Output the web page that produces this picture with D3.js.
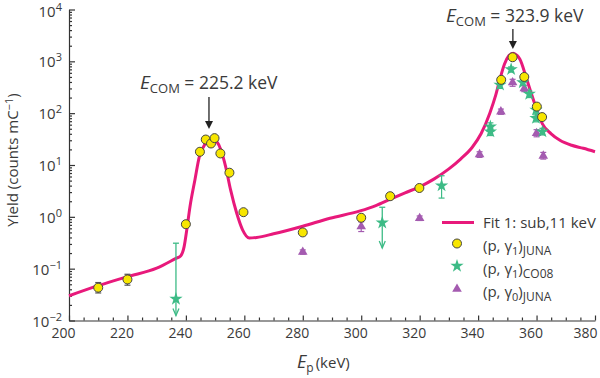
<!DOCTYPE html>
<html><head><meta charset="utf-8">
<script src="https://cdn.jsdelivr.net/npm/d3@7"></script>
<style>
body{margin:0;background:#fff;}
svg{display:block;}
text{font-family:"Open Sans","Noto Sans",sans-serif;fill:#3a3a3a;}
</style></head>
<body>
<svg id="c" width="600" height="378"></svg>
<script>
// ---------- data ----------
const xTicks = [200,220,240,260,280,300,320,340,360,380];
const yTickExp = [-2,-1,0,1,2,3,4];

const fitE = [200,210,220,230,236.6,238.2,239.4,240.3,241.4,243.1,244.6,246.5,248.3,249.5,250.6,252,253.6,255.3,257.4,259.4,261.7,264.2,270,280,289.3,299.6,305,310,315,320,325,330,334,338,341,344,346,347.5,349,350.5,352,353.3,354.3,356.6,358,360,362,365,368,372,376,380];
const fitY = [0.030,0.047,0.070,0.102,0.158,0.176,0.266,0.56,1.57,5.2,14.5,25,30,30.5,28,19.5,9.3,3.3,1.17,0.56,0.39,0.40,0.47,0.66,0.94,1.30,1.65,2.2,2.9,3.8,5.4,8.4,13,22,40,100,220,460,880,1280,1440,1300,1100,460,260,120,62,40,30,24,21,18];

const juna1E = [210,220,240,244.8,246.8,248.6,249.8,251.8,254.9,259.7,280,300,309.9,319.9,347.9,351.8,355.8,360.1,361.9];
const juna1Y = [0.043,0.062,0.72,18,31,26,33,16.7,7.1,1.23,0.50,0.96,2.5,3.6,440,1200,500,134,84];
const juna1Lo = [0.034,0.048,null,null,null,null,null,null,null,null,null,null,null,null,null,null,null,null,null];
const juna1Hi = [0.054,0.078,null,null,null,null,null,null,null,null,null,null,null,null,null,null,null,null,null];

const co08E = [236.6,307.2,327.5,344.2,344.2,347.5,351.3,355.3,357.5,359.8,359.8,362];
const co08Y = [0.026,0.77,4.0,55,44,352,700,390,234,116,80,44];
const co08Lo = [0.0125,0.25,2.3,46,37,300,620,340,200,100,68,38];
const co08Hi = [0.31,1.53,6.2,65,52,410,780,450,270,135,93,51];
const co08Limit = [true,true,false,false,false,false,false,false,false,false,false,false];

const junaG0E = [280,300,320,340.5,347.8,351.8,355.8,360,362.3];
const junaG0Y = [0.21,0.65,0.94,16,107,390,300,41,15];
const junaG0Lo = [0.19,0.52,0.85,14,95,330,260,35,13];
const junaG0Hi = [0.23,0.80,1.04,18,120,450,345,48,17.5];

const legendLabels = ["Fit 1: sub,11 keV","(p, γ1)JUNA","(p, γ1)CO08","(p, γ0)JUNA"];

// ---------- chart ----------
const svg = d3.select("#c");
const x = d3.scaleLinear().domain([200,380]).range([69,595]);
const y = d3.scaleLog().domain([0.01,1e4]).range([320.5,9.5]);

const cPink = "#e8197b", cGreen = "#3dbb86", cPurple = "#a45bb0", cYellow = "#f7e600";

// axes
const xMinor = d3.range(200,381,5).filter(v => v % 20 !== 0);
const gx = svg.append("g").attr("transform","translate(0,320.5)");
gx.call(d3.axisBottom(x).tickValues(xTicks).tickSize(-5).tickSizeOuter(0).tickPadding(8).tickFormat(d3.format("d")));
gx.append("g").call(d3.axisBottom(x).tickValues(xMinor).tickSize(-3).tickSizeOuter(0).tickFormat(""))
  .select(".domain").remove();
gx.selectAll("text").attr("font-size",14).attr("dx",d => d===380 ? -10 : -6).style("fill","#3a3a3a")
  .attr("font-family","Open Sans, sans-serif");
gx.selectAll("path,line").attr("stroke","#333").attr("stroke-width",1.2);

const yMinor = [];
for (let e=-2;e<4;e++) for (let m=2;m<10;m++) yMinor.push(m*Math.pow(10,e));
const gy = svg.append("g").attr("transform","translate(69,0)");
gy.call(d3.axisLeft(y).tickValues(yTickExp.map(e=>Math.pow(10,e))).tickSize(-6).tickSizeOuter(0).tickFormat(""));
gy.append("g").call(d3.axisLeft(y).tickValues(yMinor).tickSize(-3).tickSizeOuter(0).tickFormat(""))
  .select(".domain").remove();
gy.selectAll("path,line").attr("stroke","#333").attr("stroke-width",1.2);

// y tick labels with superscripts
yTickExp.forEach(e => {
  const t = svg.append("text").attr("x",62).attr("y",y(Math.pow(10,e))+ (e===4 ? 7.5 : 6))
    .attr("text-anchor","end").attr("font-size",15);
  t.append("tspan").text("10");
  t.append("tspan").attr("dy",-6).attr("font-size",11).text(e<0 ? "−"+(-e) : String(e));
});

// axis titles
const yt = svg.append("text").attr("transform","translate(18,160) rotate(-90)")
  .attr("text-anchor","middle").attr("font-size",15);
yt.append("tspan").text("Yield (counts mC");
yt.append("tspan").attr("dy",-5).attr("font-size",11).text("−1");
yt.append("tspan").attr("dy",5).text(")");

const xt = svg.append("text").attr("x",297).attr("y",368).attr("font-size",15);
xt.append("tspan").attr("font-style","italic").attr("font-size",18).text("E");
xt.append("tspan").attr("dy",4).attr("font-size",12).text("p");
xt.append("tspan").attr("dy",-4).attr("dx",2).text("(keV)");

// fit line
const fit = fitE.map((e,i)=>[e,fitY[i]]);
svg.append("path").datum(fit)
  .attr("d", d3.line().x(d=>x(d[0])).y(d=>y(d[1])).curve(d3.curveMonotoneX))
  .attr("fill","none").attr("stroke",cPink).attr("stroke-width",3);

// error bars helper
function errBar(g, xe, lo, hi, color, cap) {
  g.append("line").attr("x1",x(xe)).attr("x2",x(xe)).attr("y1",y(lo)).attr("y2",y(hi))
    .attr("stroke",color).attr("stroke-width",1.2);
  [lo,hi].forEach(v => g.append("line").attr("x1",x(xe)-cap).attr("x2",x(xe)+cap)
    .attr("y1",y(v)).attr("y2",y(v)).attr("stroke",color).attr("stroke-width",1.2));
}
const gErr = svg.append("g");

// CO08 stars
co08E.forEach((e,i)=>{
  if (co08Limit[i]) {
    const xp = x(e);
    gErr.append("line").attr("x1",xp).attr("x2",xp).attr("y1",y(co08Hi[i])).attr("y2",y(co08Lo[i]))
      .attr("stroke",cGreen).attr("stroke-width",1.3);
    gErr.append("line").attr("x1",xp-3).attr("x2",xp+3).attr("y1",y(co08Hi[i])).attr("y2",y(co08Hi[i]))
      .attr("stroke",cGreen).attr("stroke-width",1.3);
    gErr.append("path").attr("d",`M${xp-3},${y(co08Lo[i])-7}L${xp},${y(co08Lo[i])}L${xp+3},${y(co08Lo[i])-7}`)
      .attr("fill","none").attr("stroke",cGreen).attr("stroke-width",1.3);
  } else {
    errBar(gErr, e, co08Lo[i], co08Hi[i], cGreen, 3);
  }
});
// purple error bars
junaG0E.forEach((e,i)=> errBar(gErr, e, junaG0Lo[i], junaG0Hi[i], cPurple, 3));
// juna1 error bars
juna1E.forEach((e,i)=>{ if (juna1Lo[i]!=null) errBar(gErr, e, juna1Lo[i], juna1Hi[i], "#555", 3); });

const star = d3.symbol().type(d3.symbolStar).size(55);
const tri = d3.symbol().type(d3.symbolTriangle).size(40);

svg.append("g").selectAll("path").data(junaG0E).join("path")
  .attr("d",tri).attr("transform",(d,i)=>`translate(${x(d)},${y(junaG0Y[i])})`).attr("fill",cPurple);
svg.append("g").selectAll("path").data(co08E).join("path")
  .attr("d",star).attr("transform",(d,i)=>`translate(${x(d)},${y(co08Y[i])})`).attr("fill",cGreen);
svg.append("g").selectAll("circle").data(juna1E).join("circle")
  .attr("cx",d=>x(d)).attr("cy",(d,i)=>y(juna1Y[i])).attr("r",4.5)
  .attr("fill",cYellow).attr("stroke","#444").attr("stroke-width",1);

// annotations
function ecom(xp, yp, val) {
  const t = svg.append("text").attr("x",xp).attr("y",yp).attr("font-size",17.5);
  t.append("tspan").attr("font-style","italic").attr("font-size",19).text("E");
  t.append("tspan").attr("dy",4).attr("font-size",13).text("COM");
  t.append("tspan").attr("dy",-4).text(" = " + val + " keV");
}
ecom(140, 89, "225.2");
ecom(446, 22, "323.9");
function arrow(xe, y1, y2) {
  const xp = x(xe);
  svg.append("line").attr("x1",xp).attr("x2",xp).attr("y1",y1).attr("y2",y2-2).attr("stroke","#222").attr("stroke-width",1.3);
  svg.append("path").attr("d",`M${xp-4},${y2-8}L${xp},${y2}L${xp+4},${y2-8}Z`).attr("fill","#222");
}
arrow(247.9, 97, 129);
arrow(351.9, 29, 49);

// legend
const lg = svg.append("g");
lg.append("line").attr("x1",442).attr("x2",474).attr("y1",222.5).attr("y2",222.5).attr("stroke",cPink).attr("stroke-width",3);
lg.append("circle").attr("cx",457).attr("cy",243.5).attr("r",4.5).attr("fill",cYellow).attr("stroke","#444");
lg.append("path").attr("d",star).attr("transform","translate(457,266)").attr("fill",cGreen);
lg.append("path").attr("d",tri).attr("transform","translate(457,289)").attr("fill",cPurple);
const ly = [227.5,250.5,273.5,296.5];
legendLabels.forEach((s,i)=>{
  const t = lg.append("text").attr("x",483).attr("y",ly[i]).attr("font-size",15);
  if (i===0) { t.text(s); return; }
  const m = s.match(/^\(p, γ(\d)\)(\w+)$/);
  t.append("tspan").text("(p, γ");
  t.append("tspan").attr("dy",4).attr("font-size",11).text(m[1]);
  t.append("tspan").attr("dy",-4).text(")");
  t.append("tspan").attr("dy",4).attr("font-size",12).text(m[2]);
});
</script>
</body></html>
